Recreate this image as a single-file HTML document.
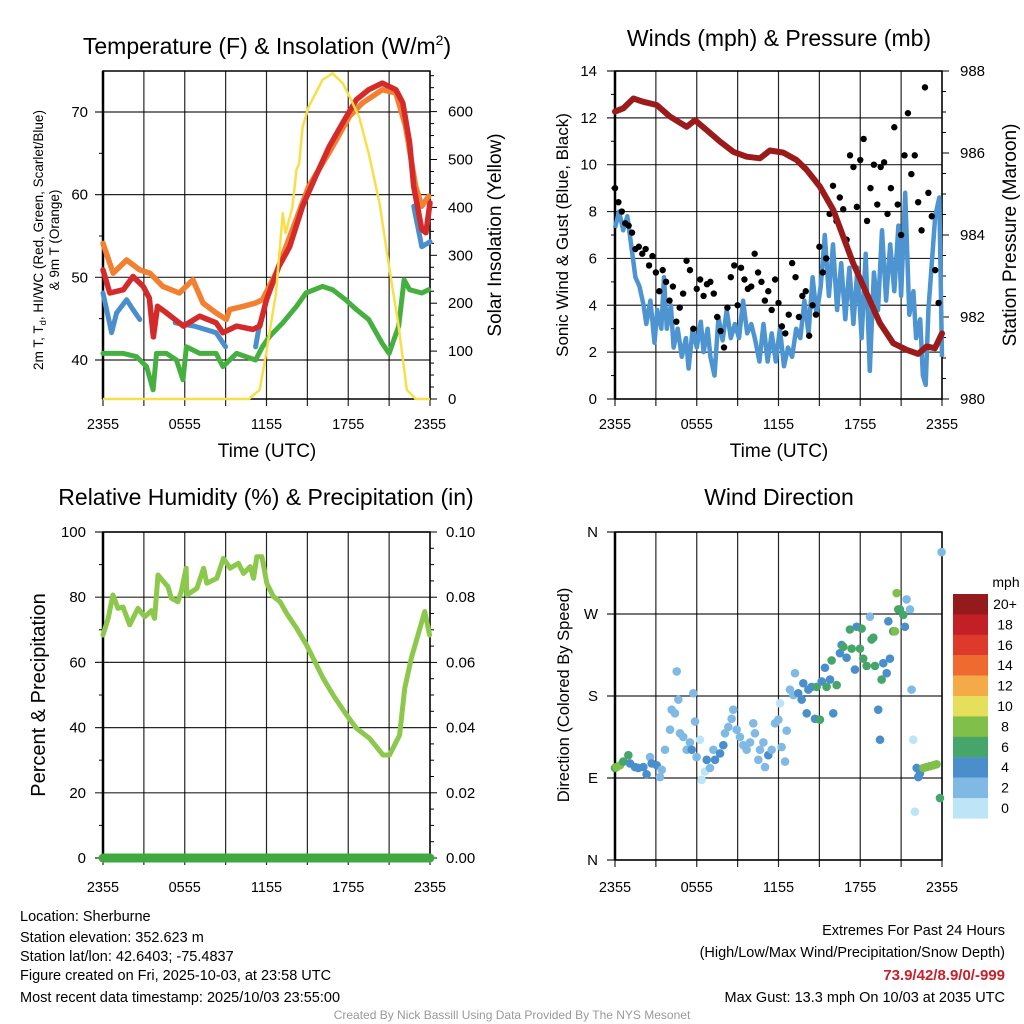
<!DOCTYPE html>
<html><head><meta charset="utf-8"><style>
html,body{margin:0;padding:0;background:#fff;}
svg{display:block;font-family:"Liberation Sans",Arial,sans-serif;}
</style></head><body>
<svg id="chart" width="1024" height="1024" viewBox="0 0 1024 1024" xmlns="http://www.w3.org/2000/svg">
<rect x="0" y="0" width="1024" height="1024" fill="#fff"/>
<g id="p1"></g>
<g id="p2"></g>
<g id="p3"></g>
<g id="p4"></g>

<text x="267" y="54" font-size="23" text-anchor="middle">Temperature (F) &amp; Insolation (W/m<tspan font-size="14" dy="-9">2</tspan><tspan dy="9">)</tspan></text>
<text x="779" y="46" font-size="23" text-anchor="middle">Winds (mph) &amp; Pressure (mb)</text>
<text x="266" y="505" font-size="23" text-anchor="middle">Relative Humidity (%) &amp; Precipitation (in)</text>
<text x="779" y="505" font-size="23" text-anchor="middle">Wind Direction</text>

<text transform="translate(43,240) rotate(-90)" font-size="13.5" text-anchor="middle">2m T, T<tspan font-size="9.5" dy="3">d</tspan><tspan dy="-3">, HI/WC (Red, Green, Scarlet/Blue)</tspan></text>
<text transform="translate(59,240) rotate(-90)" font-size="13.5" text-anchor="middle">&amp; 9m T (Orange)</text>
<text transform="translate(501,235) rotate(-90)" font-size="19" text-anchor="middle">Solar Insolation (Yellow)</text>
<text transform="translate(568,235) rotate(-90)" font-size="17" text-anchor="middle">Sonic Wind &amp; Gust (Blue, Black)</text>
<text transform="translate(1016,235) rotate(-90)" font-size="19" text-anchor="middle">Station Pressure (Maroon)</text>
<text transform="translate(45,695) rotate(-90)" font-size="20" text-anchor="middle">Percent &amp; Precipitation</text>
<text transform="translate(569,695) rotate(-90)" font-size="16.5" text-anchor="middle">Direction (Colored By Speed)</text>
<text x="267" y="457" font-size="19" text-anchor="middle">Time (UTC)</text>
<text x="779" y="457" font-size="19" text-anchor="middle">Time (UTC)</text>

<g font-size="14.5">
<text x="20" y="921">Location: Sherburne</text>
<text x="20" y="942">Station elevation: 352.623 m</text>
<text x="20" y="961">Station lat/lon: 42.6403; -75.4837</text>
<text x="20" y="980">Figure created on Fri, 2025-10-03, at 23:58 UTC</text>
<text x="20" y="1002">Most recent data timestamp: 2025/10/03 23:55:00</text>
</g>
<g font-size="14.5" text-anchor="end">
<text x="1005" y="935">Extremes For Past 24 Hours</text>
<text x="1005" y="957">(High/Low/Max Wind/Precipitation/Snow Depth)</text>
<text x="1005" y="980" fill="#c8202a" font-weight="bold" font-size="15">73.9/42/8.9/0/-999</text>
<text x="1005" y="1002">Max Gust: 13.3 mph On 10/03 at 2035 UTC</text>
</g>
<text x="512" y="1019" font-size="12" fill="#999" text-anchor="middle">Created By Nick Bassill Using Data Provided By The NYS Mesonet</text>
<g id="legend">
<text x="1006" y="587" font-size="14" text-anchor="middle">mph</text>
</g>
</svg>
<script>
// ---- Panel 1 data (hours since 2355 UTC) ----
const redT=[0,0.5,1.5,2.2,2.95,3.4,3.7,4.0,4.66,5.9,7.1,8.3,8.8,9.8,11,11.5,12,12.9,13.7,14.65,15.6,16.6,17.6,18.6,19.5,20.5,21.5,22,22.5,22.8,23.4,23.7,24];
const redV=[50.9,48.1,48.5,50.1,48.9,47.5,42.8,46.5,45.7,44.1,45.3,44.5,43.3,44.1,43.7,44.1,47.3,51.3,53.7,58.6,62.2,65.8,68.7,71.5,72.7,73.5,72.7,71.1,66.3,61,55.8,55.4,59];
const orangeT=[0,0.75,1.73,2.7,3.44,4.4,5.6,6.6,7.34,8.3,9.05,9.3,10.3,11.2,11.7,12.7,13.7,15.1,16.6,18.1,19.05,20.5,21.5,22.2,22.95,23.4,23.9];
const orangeV=[54.1,50.5,52.1,50.9,50.5,48.9,48.1,49.7,46.9,45.7,44.9,46.1,46.5,46.9,47.3,50.5,54.9,61,65.1,69.5,71.1,72.7,72.3,68.3,61,58.6,59.8];
const blueT=[0,0.63,1,1.73,2.2,2.7,3.0,5.3,6.7,8.3,9,9.3,11.2,11.5,11.8,22.8,23.4,24];
const blueV=[48.1,43.3,45.7,47.3,46.1,44.9,null,44.5,44.1,43.3,41.6,null,41.6,44.4,null,58.6,53.7,54.3];
const greenT=[0,1.5,2.46,3.2,3.68,3.93,4.66,5.39,5.87,6.12,7.1,8.3,8.8,9.8,11.2,11.7,12.2,13.2,14.2,14.9,16.1,16.85,17.8,18.6,19.5,20.5,21,21.7,22.1,22.5,23.4,23.9];
const greenV=[40.8,40.8,40.4,39.2,36.4,40.8,40.8,40.0,37.6,41.6,40.8,40.8,39.2,40.8,40.0,41.6,42.8,44.5,46.5,48.1,48.9,48.5,47.3,46.1,44.9,42.0,40.8,44.1,49.7,48.5,48.1,48.5];
const solarT=[0,10.7,11.5,11.97,12.7,13.2,13.4,13.9,14.2,14.4,14.65,15.1,16.1,16.85,17.6,18.1,18.8,19.5,20.3,21,21.7,22.3,22.95,24];
const solarV=[0,0,19,95,221,388,346,401,478,492,568,610,666,680,659,631,589,513,408,276,151,19,0,0];
const tempTicks=[40,50,60,70];
const solarTicks=[0,100,200,300,400,500,600];
const timeLabels=["2355","0555","1155","1755","2355"];
// ---- Panel 2 data ----
const presT=[0,0.61,1.35,2.08,3.06,4.03,5.26,5.87,6.72,7.7,8.68,9.66,10.64,11.37,12.35,13.33,14.06,15.04,16.02,16.75,17.48,18.46,19.44,20.42,21.4,22.25,22.87,23.48,24];
const presV=[987.01,987.09,987.33,987.25,987.17,986.89,986.64,986.80,986.56,986.28,986.03,985.91,985.87,986.06,986.01,985.83,985.59,985.18,984.61,983.96,983.31,982.58,981.85,981.36,981.20,981.10,981.28,981.24,981.60];
const windT=[0,0.3,0.6,0.9,1.2,1.5,1.8,2.1,2.3,2.6,2.9,3.1,3.4,3.6,3.8,4.1,4.3,4.6,4.9,5.2,5.4,5.7,6.0,6.3,6.5,6.8,7.0,7.3,7.6,7.9,8.2,8.5,8.8,9.1,9.4,9.7,10.0,10.3,10.6,10.9,11.2,11.5,11.8,12.1,12.4,12.7,13.0,13.3,13.6,13.9,14.2,14.5,14.8,15.1,15.4,15.7,16.0,16.3,16.6,16.9,17.2,17.5,17.8,18.1,18.4,18.7,19.0,19.3,19.6,19.9,20.2,20.5,20.8,21.0,21.3,21.6,21.9,22.1,22.4,22.6,22.8,23.0,23.3,23.5,23.8,24];
const windV=[7.3,8.0,7.2,7.8,6.5,5.2,4.8,4.0,3.2,4.2,2.4,3.8,3.0,5.2,3.0,4.0,2.2,3.0,1.8,2.6,1.3,3.0,2.2,3.3,2.0,3.0,1.8,1.0,3.5,2.5,3.8,2.6,3.2,2.6,4.2,2.8,3.2,2.5,1.6,3.2,1.6,2.8,1.6,3.0,1.4,2.2,1.8,3.0,2.6,4.2,2.8,5.2,3.6,4.8,7.0,4.4,6.6,3.8,5.8,3.4,5.6,3.2,5.6,2.6,6.2,1.2,5.4,3.8,7.2,4.2,6.6,4.6,7.4,4.4,8.8,3.6,4.6,2.6,3.4,1.0,0.6,3.8,6.2,7.8,8.6,1.8];
const gustV=[9.0,8.4,8.0,7.5,7.4,7.1,6.4,6.5,6.2,6.4,5.7,6.1,5.4,4.6,5.5,5.0,4.2,4.8,3.3,3.9,4.5,5.9,5.5,3.0,4.7,5.1,4.4,4.9,5.0,4.5,3.5,2.9,2.2,3.9,5.2,5.7,4.0,5.6,5.1,4.7,4.8,6.2,5.4,5.0,4.2,4.6,3.8,5.1,4.1,3.1,2.8,3.6,5.8,5.2,3.5,4.4,4.6,2.7,4.0,3.6,6.5,5.4,6.0,7.9,9.1,7.6,8.6,8.1,6.8,10.4,9.9,8.2,10.2,11.1,7.6,9.0,10.0,8.3,9.9,10.1,7.9,9.0,11.6,8.3,7.0,10.4,12.2,9.6,10.4,8.4,7.2,13.3,8.8,7.8,5.5,4.1];
const windTicks=[0,2,4,6,8,10,12,14];
const presTicks=[980,982,984,986,988];
// ---- Panel 3 data ----
const rhT=[0,0.38,0.73,1.1,1.47,1.96,2.57,3.06,3.55,3.79,4.04,4.77,5.01,5.5,5.74,6.1,6.16,6.89,7.38,7.62,8.35,8.84,9.33,9.94,10.31,10.8,11.05,11.29,11.66,12.02,12.51,13,13.48,14.21,14.94,16.16,16.89,17.87,18.6,19.57,20.55,21.03,21.77,22.14,22.63,23.12,23.61,23.97];
const rhV=[68.4,73.5,80.7,76.6,77.0,71.5,76.6,74.0,75.9,73.5,86.8,83.2,79.7,78.6,81.7,88.9,80.7,82.7,88.9,84.3,85.8,91.9,88.9,90.4,87.3,89.4,85.8,92.4,92.4,84.3,80.2,78.6,75.0,70.5,65.3,55.1,50.0,43.9,39.8,36.7,31.6,31.6,37.7,52.0,61.3,68.4,75.6,68.4];
const precipT=[0,24];
const precipV=[0,0];
const rhTicks=[0,20,40,60,80,100];
const precipTicks=["0.00","0.02","0.04","0.06","0.08","0.10"];
// ---- Panel 4 data ----
const dirT=[0,0.12,0.37,0.61,0.98,1.1,1.47,1.71,2.08,2.32,2.57,2.69,3.06,3.3,3.43,3.67,4.04,4.16,4.4,4.53,4.65,4.77,5.01,5.26,5.5,5.63,5.75,5.87,5.99,6.24,6.36,6.6,6.73,6.97,7.22,7.34,7.71,7.95,8.07,8.32,8.56,8.68,8.93,9.17,9.42,9.66,9.91,10.15,10.27,10.52,10.64,10.89,11.01,11.25,11.5,11.74,11.99,12.11,12.23,12.48,12.6,12.84,13.09,13.21,13.45,13.7,13.82,14.07,14.19,14.43,14.68,14.8,15.04,15.17,15.41,15.53,15.78,15.9,16.02,16.27,16.51,16.63,16.76,17.0,17.24,17.37,17.61,17.73,17.98,18.1,18.22,18.47,18.71,18.83,18.96,19.08,19.32,19.45,19.57,19.69,19.94,20.06,20.18,20.42,20.55,20.67,20.79,20.91,21.16,21.28,21.4,21.65,21.77,21.89,22.01,22.14,22.26,22.38,22.63,22.87,23.12,23.36,23.6,23.85,23.97];
const dirV=[101,102,104,108,115,106,102,101,102,94,113,106,104,91,99,121,143,165,161,207,176,139,135,121,129,121,183,152,113,132,88,97,110,101,121,110,117,126,139,146,155,165,143,135,126,121,129,150,139,110,121,129,102,115,121,150,154,172,124,108,142,187,181,205,183,176,194,161,187,190,155,190,154,196,211,190,198,219,161,192,227,236,234,222,253,232,209,256,232,254,221,213,267,242,244,213,165,132,198,216,205,262,221,251,251,293,275,275,269,256,286,275,187,132,53,101,91,95,101,102,103,104,105,68,338];
const dirSpd=[7,9,9,7,7,5,5,5,5,5,3,5,5,3,3,3,3,3,3,3,3,3,3,3,3,5,3,3,3,1,1,1,5,3,3,5,5,5,3,3,3,3,3,3,3,3,3,3,3,3,3,3,3,5,3,3,3,1,3,3,3,3,3,3,5,5,5,5,5,5,5,7,7,5,5,7,5,7,5,7,5,5,7,5,7,7,5,5,7,7,7,7,3,7,7,7,5,5,7,5,5,5,5,7,9,9,7,7,7,5,3,3,3,1,1,5,5,5,9,9,9,9,9,7,3];
const dirLabels=["N","E","S","W","N"];
const legendLabels=["20+","18","16","14","12","10","8","6","4","2","0"];
const legendColors=["#951a1c","#c21f26","#de3a2c","#ee6a2f","#f5aa48","#e6df5b","#80c04a","#46a66a","#4a8fcb","#7fb9e4","#bde4f7"];

const NS="http://www.w3.org/2000/svg";
function mk(tag,attrs,parent){const e=document.createElementNS(NS,tag);for(const k in attrs)e.setAttribute(k,attrs[k]);parent.appendChild(e);return e;}
function txt(x,y,s,size,anchor,parent){const t=mk("text",{x:x,y:y,"font-size":size,"text-anchor":anchor},parent);t.textContent=s;return t;}
function pathFrom(T,V,xs,ys){let d="",pen=false;for(let i=0;i<T.length;i++){if(V[i]===null){pen=false;continue;}d+=(pen?"L":"M")+xs(T[i]).toFixed(1)+","+ys(V[i]).toFixed(1);pen=true;}return d;}

function frame(g,x0,x1,y0,y1,hYs){
  for(let i=0;i<=8;i++){const x=x0+i*(x1-x0)/8;
    const l=mk("line",{x1:x,y1:y0,x2:x,y2:y1+7,stroke:"#000","stroke-width":1.2,"stroke-opacity":0.85},g);
    
    }
  hYs.forEach(y=>{const l=mk("line",{x1:x0-8,y1:y,x2:x1,y2:y,stroke:"#000","stroke-width":1.2,"stroke-opacity":0.85},g);
    
    });
  const r=mk("rect",{x:x0,y:y0,width:x1-x0,height:y1-y0,fill:"none",stroke:"#000","stroke-width":1.5},g);
  
  
  const lx=mk("line",{x1:x0,y1:y0,x2:x0,y2:y1,stroke:"#000","stroke-width":2.5},g);
  
  
}
function tick(g,x,y,len,horiz){const l=mk("line",horiz?{x1:x,y1:y,x2:x+len,y2:y}:{x1:x,y1:y,x2:x,y2:y+len},g);l.setAttribute("stroke","#000");l.setAttribute("stroke-width","1");
  
  }
function timeLabs(g,x0,x1,y){timeLabels.forEach((s,i)=>{const t=txt(x0+i*(x1-x0)/4,y,s,14.5,"middle",g);
  
  });}

// ===== Panel 1 =====
(function(){
  const g=document.getElementById("p1");
  const x0=103,x1=430,y0=71,y1=399;
  const xs=t=>x0+t/24*(x1-x0);
  const yT=v=>360-(v-40)*8.267;
  const yS=v=>399-v*0.479;
  frame(g,x0,x1,y0,y1,tempTicks.map(yT));
  [45,55,65].forEach(v=>tick(g,x0-4,yT(v),4,true));
  for(let v=0;v<=675;v+=25)tick(g,x1,yS(v),v%100===0?7:4,true);
  tempTicks.forEach(v=>{const t=txt(88,yT(v)+5,String(v),15,"end",g);
    
    });
  solarTicks.forEach(v=>{const t=txt(448,yS(v)+5,String(v),15,"start",g);
    
    });
  timeLabs(g,x0,x1,429);
  const series=[[blueT,blueV,"#4a8fcb",5,"windchill-line"],[orangeT,orangeV,"#f28030",5.5,"temp-9m-line"],[redT,redV,"#d42a2a",5.5,"temp-2m-line"],[greenT,greenV,"#45b03f",5,"dewpoint-line"]];
  series.forEach(s=>{const p=mk("path",{d:pathFrom(s[0],s[1],xs,yT),fill:"none",stroke:s[2],"stroke-width":s[3],"stroke-linejoin":"round","stroke-linecap":"round"},g);
    
    });
  const p=mk("path",{d:pathFrom(solarT,solarV,xs,yS),fill:"none",stroke:"#f8df4a","stroke-width":2.5,"stroke-linejoin":"round"},g);
  
  
})();

// ===== Panel 2 =====
(function(){
  const g=document.getElementById("p2");
  const x0=615,x1=942,y0=71,y1=399;
  const xs=t=>x0+t/24*(x1-x0);
  const yW=v=>399-v*23.43;
  const yP=v=>399-(v-980)*41;
  frame(g,x0,x1,y0,y1,windTicks.map(yW));
  for(let v=1;v<14;v+=2)tick(g,x0-4,yW(v),4,true);
  for(let v=980;v<=988.01;v+=0.5)tick(g,x1,yP(v),Math.abs(v%2)<0.01?7:4,true);
  windTicks.forEach(v=>{const t=txt(597,yW(v)+5,String(v),15,"end",g);
    
    });
  presTicks.forEach(v=>{const t=txt(960,yP(v)+5,String(v),15,"start",g);
    
    });
  timeLabs(g,x0,x1,429);
  const w=mk("path",{d:pathFrom(windT,windV,xs,yW),fill:"none",stroke:"#4d94d0","stroke-width":4.5,"stroke-linejoin":"round"},g);
  
  
  gustV.forEach((v,i)=>{const c=mk("circle",{cx:xs(i*0.25),cy:yW(v),r:3.2,fill:"#000"},g);
    
    });
  const p=mk("path",{d:pathFrom(presT,presV,xs,yP),fill:"none",stroke:"#9b1b1b","stroke-width":6,"stroke-linejoin":"round","stroke-linecap":"round"},g);
  
  
})();

// ===== Panel 3 =====
(function(){
  const g=document.getElementById("p3");
  const x0=103,x1=430,y0=532,y1=858;
  const xs=t=>x0+t/24*(x1-x0);
  const yR=v=>858-v*3.26;
  const yPr=v=>858-v*3260;
  frame(g,x0,x1,y0,y1,rhTicks.map(yR));
  for(let v=10;v<100;v+=20)tick(g,x0-4,yR(v),4,true);
  for(let k=0;k<=20;k++)tick(g,x1,yR(k*5),k%4===0?7:4,true);
  rhTicks.forEach(v=>{const t=txt(86,yR(v)+5,String(v),15,"end",g);
    
    });
  precipTicks.forEach((s,i)=>{const t=txt(446,yR(i*20)+5,s,15,"start",g);
    
    });
  timeLabs(g,x0,x1,892);
  const r=mk("path",{d:pathFrom(rhT,rhV,xs,yR),fill:"none",stroke:"#8cc84b","stroke-width":5,"stroke-linejoin":"round","stroke-linecap":"round"},g);
  
  
  const p=mk("path",{d:pathFrom(precipT,precipV,xs,yPr),fill:"none",stroke:"#3fa83f","stroke-width":9,"stroke-linecap":"round"},g);
  
  
})();

// ===== Panel 4 =====
(function(){
  const g=document.getElementById("p4");
  const x0=615,x1=942,y0=532,y1=860;
  const xs=t=>x0+t/24*(x1-x0);
  const yD=v=>860-v*0.9111;
  frame(g,x0,x1,y0,y1,[0,90,180,270,360].map(yD));
  dirLabels.forEach((s,i)=>{const t=txt(598,yD(i*90)+5,s,15,"end",g);
    
    });
  timeLabs(g,x0,x1,892);
  const col=s=>legendColors[10-Math.min(10,Math.floor(s/2))];
  dirT.forEach((t,i)=>{const c=mk("circle",{cx:xs(t),cy:yD(dirV[i]),r:4.3,fill:col(dirSpd[i])},g);
    
    });
  const lg=document.getElementById("legend");
  legendColors.forEach((c,i)=>{const r=mk("rect",{x:953,y:594+i*20.4,width:35,height:20.6,fill:c},lg);
    
    
    const t=txt(1005,594+i*20.4+15,legendLabels[i],14,"middle",lg);
    
    });
})();
</script>
</body></html>
